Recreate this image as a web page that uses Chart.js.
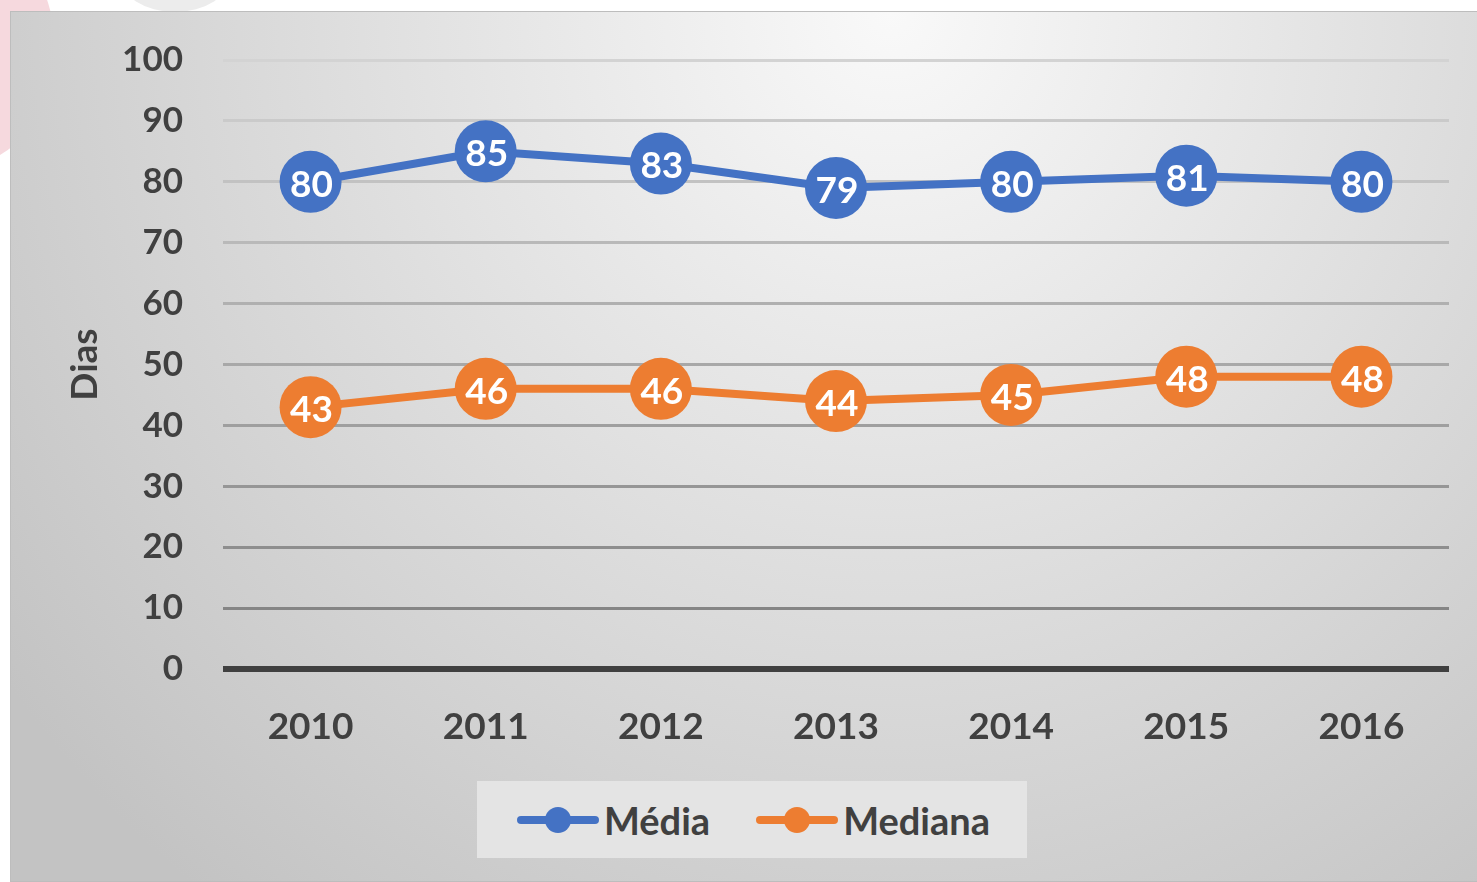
<!DOCTYPE html>
<html>
<head>
<meta charset="utf-8">
<script src="https://cdn.jsdelivr.net/npm/chart.js@4.4.0/dist/chart.umd.min.js"></script>
<style>
  html, body { margin: 0; padding: 0; width: 1477px; height: 882px; overflow: hidden; background: #fff; position: relative; font-family: Lato, sans-serif; }
  .blob { position: absolute; left: -130px; top: -70px; width: 185px; height: 235px; border-radius: 50%; background: #f6d9de; }
  .blob2 { position: absolute; left: 120px; top: -60px; width: 110px; height: 72px; border-radius: 50%; background: #ececec; }
  .box { position: absolute; left: 10px; top: 11px; width: 1466px; height: 869px; border: 1px solid #bdbdbd; border-right: none;
         background: radial-gradient(ellipse 75% 130% at 60% 0%, #f9f9f9 0%, #c3c3c3 100%); }
  #chart { position: absolute; left: 0; top: 0; }
  #legend { position: absolute; left: 466px; top: 769px; width: 550px; height: 77px; background: #e4e4e4;
            display: flex; align-items: center; padding-left: 40px; box-sizing: border-box; }
  .item { display: flex; align-items: center; margin-right: 46px; }
  .mark { position: relative; width: 82px; height: 26px; margin-right: 5px; }
  .mark .ln { position: absolute; left: 0; top: 9px; width: 82px; height: 8px; border-radius: 4px; }
  .mark .dt { position: absolute; left: 28px; top: 0; width: 26px; height: 26px; border-radius: 50%; }
  .item span.tx { font-size: 38px; font-weight: bold; color: #404040; }
</style>
</head>
<body>
<div class="blob"></div>
<div class="blob2"></div>
<div class="box">
  <canvas id="chart" width="1466" height="869"></canvas>
  <div id="legend"></div>
</div>
<script>
// === DATA ===
const years = ["2010", "2011", "2012", "2013", "2014", "2015", "2016"];
const media = [80, 85, 83, 79, 80, 81, 80];
const mediana = [43, 46, 46, 44, 45, 48, 48];
const yTicks = [0, 10, 20, 30, 40, 50, 60, 70, 80, 90, 100];

const BLUE = "#4472C4";
const ORANGE = "#ED7D31";
const TEXT = "#404040";

// grid lines get darker towards the bottom
function gridColor(v) {
  if (v === 0) return "#404040";
  const t = (v - 10) / 90;
  const c = Math.round(0x85 + (0xd3 - 0x85) * t);
  return "rgb(" + c + "," + c + "," + c + ")";
}

// === VALUE LABELS INSIDE POINTS ===
const pointLabels = {
  id: "pointLabels",
  afterDatasetsDraw(chart) {
    const ctx = chart.ctx;
    ctx.save();
    ctx.fillStyle = "#fff";
    ctx.font = "bold 37px Lato";
    ctx.textAlign = "center";
    ctx.textBaseline = "middle";
    chart.data.datasets.forEach((ds, i) => {
      chart.getDatasetMeta(i).data.forEach((pt, j) => {
        ctx.fillText(ds.data[j], pt.x + 1, pt.y + 3);
      });
    });
    ctx.restore();
  }
};

const chart = new Chart(document.getElementById("chart"), {
  type: "line",
  data: {
    labels: years,
    datasets: [
      {
        label: "Média",
        data: media,
        borderColor: BLUE,
        backgroundColor: BLUE,
        borderWidth: 8,
        pointRadius: 31,
        pointBorderWidth: 0,
        tension: 0
      },
      {
        label: "Mediana",
        data: mediana,
        borderColor: ORANGE,
        backgroundColor: ORANGE,
        borderWidth: 8,
        pointRadius: 31,
        pointBorderWidth: 0,
        tension: 0
      }
    ]
  },
  options: {
    responsive: false,
    animation: false,
    layout: { autoPadding: false, padding: { left: 0, right: 28, top: 48, bottom: 117 } },
    plugins: {
      legend: { display: false },
      tooltip: { enabled: false }
    },
    scales: {
      x: {
        offset: true,
        grid: { display: false },
        border: { display: false },
        ticks: { color: TEXT, font: { family: "Lato", size: 37, weight: "bold" }, padding: 28 },
        afterFit: s => { s.height = 95; }
      },
      y: {
        min: 0,
        max: 100,
        afterBuildTicks: s => { s.ticks = yTicks.map(v => ({ value: v })); },
        border: { display: false },
        grid: {
          drawTicks: false,
          color: c => gridColor(c.tick.value),
          lineWidth: c => (c.tick.value === 0 ? 6 : 3)
        },
        ticks: { color: TEXT, font: { family: "Lato", size: 35, weight: "bold" }, padding: 40 },
        title: {
          display: true,
          text: "Dias",
          color: TEXT,
          font: { family: "Lato", size: 37, weight: "bold" },
          padding: { top: 52, bottom: 0 }
        },
        afterFit: s => {
          s.width = 212;
          s.paddingTop = 0;
          s.paddingBottom = 0;
        }
      }
    }
  },
  plugins: [pointLabels]
});

// === HTML LEGEND ===
const legend = document.getElementById("legend");
chart.data.datasets.forEach(ds => {
  const item = document.createElement("div");
  item.className = "item";
  item.innerHTML =
    '<div class="mark"><div class="ln" style="background:' + ds.borderColor + '"></div>' +
    '<div class="dt" style="background:' + ds.borderColor + '"></div></div>' +
    '<span class="tx">' + ds.label + '</span>';
  legend.appendChild(item);
});
</script>
</body>
</html>
